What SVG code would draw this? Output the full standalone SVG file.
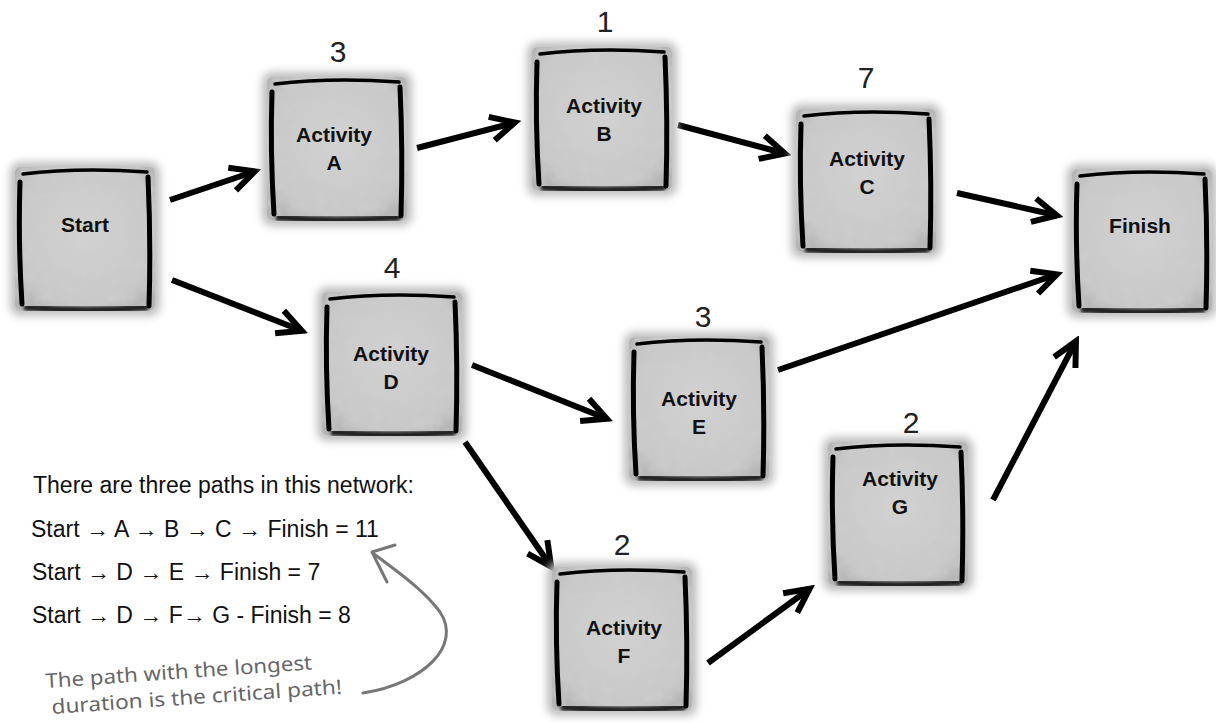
<svg xmlns="http://www.w3.org/2000/svg" xmlns:xlink="http://www.w3.org/1999/xlink" width="1216" height="722" viewBox="0 0 1216 722">
<style>
.lbl{font-family:"Liberation Sans",Arial,sans-serif;font-weight:bold;font-size:21px;fill:#111;text-anchor:middle}
.num{font-family:"Liberation Sans",Arial,sans-serif;font-size:30px;fill:#222;text-anchor:middle}
.note{font-family:"Liberation Sans",Arial,sans-serif;font-size:23px;fill:#111}
.hand{font-family:"Noto Sans","DejaVu Sans",sans-serif;font-size:20px;fill:#666}
.arr{stroke:#000;stroke-width:6;fill:none;marker-end:url(#head)}
.edge{stroke:#000;fill:none;stroke-linecap:round}
</style>
<defs>
<filter id="soft" x="-20%" y="-20%" width="140%" height="140%"><feGaussianBlur stdDeviation="4"/></filter>
<filter id="soft2" x="-20%" y="-20%" width="140%" height="140%"><feGaussianBlur stdDeviation="1.6"/></filter>
<filter id="grain" x="0" y="0" width="100%" height="100%">
<feTurbulence type="fractalNoise" baseFrequency="0.09" numOctaves="2" seed="5" result="t"/>
<feColorMatrix in="t" type="matrix" values="0 0 0 0 0.62  0 0 0 0 0.62  0 0 0 0 0.62  1.3 0 0 0 -0.55" result="g"/>
<feComposite in="g" in2="SourceGraphic" operator="in" result="gi"/>
<feMerge><feMergeNode in="SourceGraphic"/><feMergeNode in="gi"/></feMerge>
</filter>
<radialGradient id="fillg" cx="50%" cy="45%" r="65%">
<stop offset="0" stop-color="#d2d2d2"/><stop offset="0.8" stop-color="#c8c8c8"/><stop offset="1" stop-color="#b4b4b4"/>
</radialGradient>
<marker id="head" markerUnits="userSpaceOnUse" viewBox="-30 -16 36 32" markerWidth="36" markerHeight="32" refX="-2" refY="0" orient="auto">
<path d="M-24,-12 L0,0 L-24,12" stroke="#000" stroke-width="6" fill="none" stroke-linejoin="miter"/>
</marker>
<g id="box">
<rect x="-10" y="-8" width="150" height="154" rx="10" fill="#bdbdbd" filter="url(#soft)"/>
<rect x="-5" y="-3" width="140" height="143" rx="6" fill="url(#fillg)" filter="url(#grain)"/>
<path d="M4,137 Q66,143 128,137" stroke="#222" stroke-width="7" fill="none" filter="url(#soft2)"/>
<path class="edge" d="M3,4 Q60,-3 127,2" stroke-width="3.5"/>
<path class="edge" d="M0,12 Q-2,72 2,134" stroke-width="5"/>
<path class="edge" d="M128,7 Q131,72 129,136" stroke-width="5"/>
</g>
</defs>
<rect width="1216" height="722" fill="#fff"/>

<g id="connectors">
<line class="arr" x1="170" y1="200" x2="253" y2="172"/>
<line class="arr" x1="417" y1="148" x2="513" y2="123"/>
<line class="arr" x1="678" y1="125" x2="783" y2="153"/>
<line class="arr" x1="957" y1="193" x2="1055" y2="215"/>
<line class="arr" x1="172" y1="280" x2="300" y2="330"/>
<line class="arr" x1="472" y1="365" x2="605" y2="418"/>
<line class="arr" x1="465" y1="442" x2="550" y2="565"/>
<line class="arr" x1="778" y1="370" x2="1055" y2="275"/>
<line class="arr" x1="708" y1="663" x2="808" y2="590"/>
<line class="arr" x1="993" y1="500" x2="1075" y2="343"/>
</g>

<g id="node-start"><use href="#box" transform="translate(20,170)"/><text class="lbl" x="85" y="232">Start</text></g>
<g id="node-a"><use href="#box" transform="translate(272,80)"/><text class="num" x="338" y="62">3</text><text class="lbl" x="334" y="142">Activity</text><text class="lbl" x="334" y="170">A</text></g>
<g id="node-b"><use href="#box" transform="translate(537,50)"/><text class="num" x="605" y="32">1</text><text class="lbl" x="604" y="113">Activity</text><text class="lbl" x="604" y="141">B</text></g>
<g id="node-c"><use href="#box" transform="translate(801,112)"/><text class="num" x="866" y="88">7</text><text class="lbl" x="867" y="166">Activity</text><text class="lbl" x="867" y="194">C</text></g>
<g id="node-finish"><use href="#box" transform="translate(1077,172)"/><text class="lbl" x="1140" y="233">Finish</text></g>
<g id="node-d"><use href="#box" transform="translate(327,295)"/><text class="num" x="392" y="278">4</text><text class="lbl" x="391" y="361">Activity</text><text class="lbl" x="391" y="389">D</text></g>
<g id="node-e"><use href="#box" transform="translate(634,340)"/><text class="num" x="703" y="327">3</text><text class="lbl" x="699" y="406">Activity</text><text class="lbl" x="699" y="434">E</text></g>
<g id="node-f"><use href="#box" transform="translate(557,570)"/><text class="num" x="622" y="555">2</text><text class="lbl" x="624" y="635">Activity</text><text class="lbl" x="624" y="663">F</text></g>
<g id="node-g"><use href="#box" transform="translate(833,445)"/><text class="num" x="911" y="433">2</text><text class="lbl" x="900" y="486">Activity</text><text class="lbl" x="900" y="514">G</text></g>

<g id="notes">
<text class="note" x="33" y="493">There are three paths in this network:</text>
<text class="note" x="31" y="537">Start → A → B → C → Finish = 11</text>
<text class="note" x="32" y="580">Start → D → E → Finish = 7</text>
<text class="note" x="32" y="623">Start → D → F→ G - Finish = 8</text>
<text class="hand" x="46" y="688" transform="rotate(-4 46 688)" textLength="267" lengthAdjust="spacingAndGlyphs">The path with the longest</text>
<text class="hand" x="52" y="714" transform="rotate(-4 52 714)" textLength="291" lengthAdjust="spacingAndGlyphs">duration is the critical path!</text>
<path d="M363,693 C425,683 462,645 440,612 C424,590 398,572 374,554" stroke="#777" stroke-width="3" fill="none" stroke-linecap="round"/>
<path d="M395,545 L372,552 L387,582" stroke="#777" stroke-width="3" fill="none" stroke-linecap="round" stroke-linejoin="round"/>
</g>
</svg>
